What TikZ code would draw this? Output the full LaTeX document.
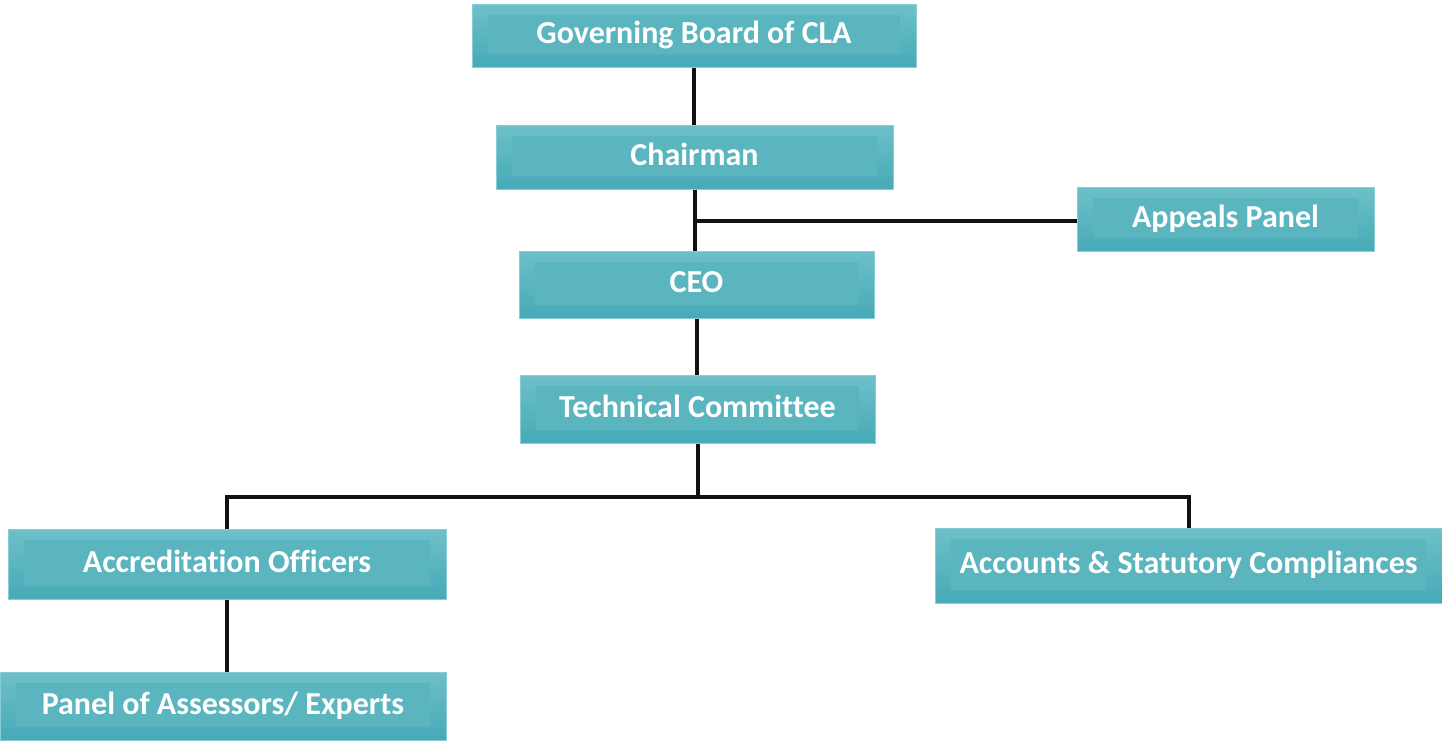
\documentclass[tikz,border=0pt]{standalone}
\usepackage{fontspec}
\setmainfont[Ligatures={NoCommon}]{Carlito}
\definecolor{boxtop}{HTML}{6EC0C9}
\definecolor{boxmid}{HTML}{55B8C3}
\definecolor{boxbot}{HTML}{46AAB7}
\definecolor{boxedge}{HTML}{86CDD4}
\definecolor{boxinner}{HTML}{5BB5BF}
\definecolor{linec}{HTML}{111111}
\tikzset{
  orgbox/.style={draw=boxedge, line width=1pt, top color=boxtop, middle color=boxmid, bottom color=boxbot,
    text=white, font=\bfseries\fontsize{32}{38}\selectfont, inner sep=0pt, text height=21pt, text depth=5pt,
    path picture={\fill[boxinner] ([xshift=16pt,yshift=-11pt]path picture bounding box.north west) rectangle ([xshift=-16pt,yshift=13pt]path picture bounding box.south east);}},
  link/.style={draw=linec, line width=4pt}
}
\begin{document}
\begin{tikzpicture}[x=1pt,y=-1pt]
\useasboundingbox (0,0) rectangle (1442,740);
\node[orgbox, minimum width=444pt, minimum height=63pt] (gov) at (694,35.5) {Governing Board of CLA};
\node[orgbox, minimum width=397pt, minimum height=64pt] (chair) at (694.5,157) {Chairman};
\node[orgbox, minimum width=297pt, minimum height=64pt] (appeals) at (1225.5,219) {Appeals Panel};
\node[orgbox, minimum width=355pt, minimum height=67pt] (ceo) at (696.5,284.5) {CEO};
\node[orgbox, minimum width=355pt, minimum height=68pt] (tc) at (697.5,409) {Technical Committee};
\node[orgbox, minimum width=438pt, minimum height=70pt] (acc) at (227,564) {Accreditation Officers};
\node[orgbox, minimum width=507pt, minimum height=75pt] (accounts) at (1188.5,565.5) {Accounts \& Statutory Compliances};
\node[orgbox, minimum width=446pt, minimum height=68pt] (panel) at (223,706) {Panel of Assessors/ Experts};
\coordinate (bus) at (697,497);
\coordinate (aj) at (696,221);
\draw[link] (gov.south) -- (gov.south |- chair.north);
\draw[link] (chair.south) -- (chair.south |- ceo.north);
\draw[link] (aj) -- (aj -| appeals.west);
\draw[link] (ceo.south) -- (ceo.south |- tc.north);
\draw[link] (tc.south) -- (tc.south |- bus);
\draw[link] (acc.north) |- (bus) -| (accounts.north);
\draw[link] (acc.south) -- (acc.south |- panel.north);
\end{tikzpicture}
\end{document}
